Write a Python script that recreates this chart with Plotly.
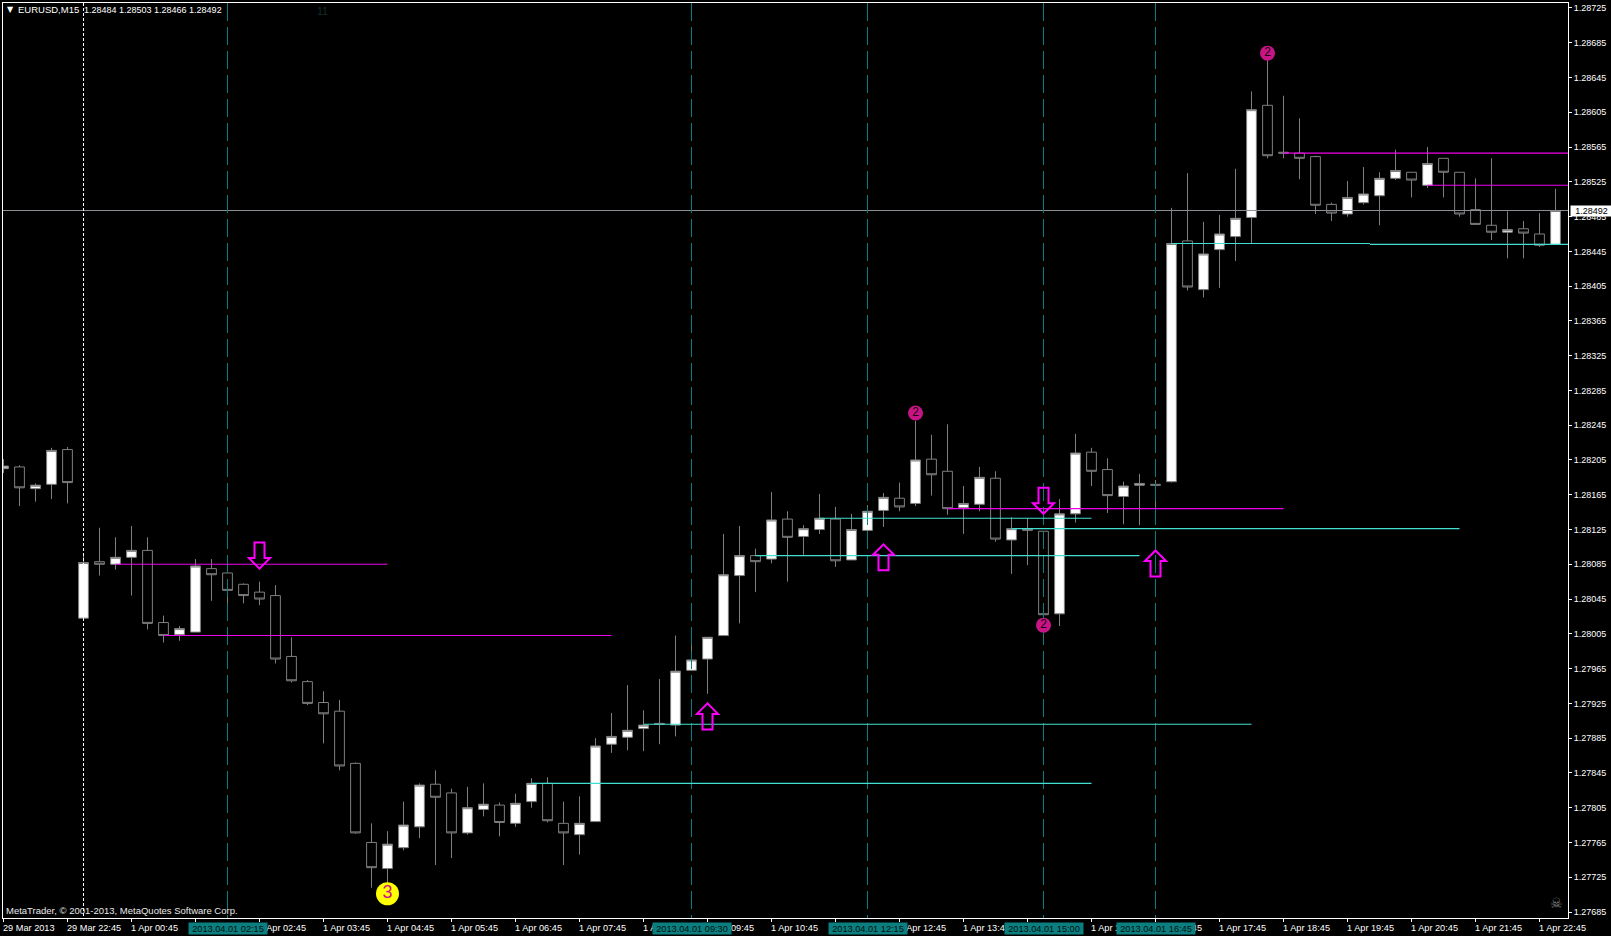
# EURUSD M15 chart in the MetaTrader style, candles by bar number
import plotly.graph_objects as go

opens = [1.28195, 1.28197, 1.28172, 1.28177, 1.28217, 1.28023, 1.28088, 1.28085, 1.28093, 1.28101,
         1.28018, 1.28004, 1.28007, 1.28080, 1.28075, 1.28062, 1.28053, 1.28049, 1.27979, 1.27950,
         1.27926, 1.27916, 1.27856, 1.27765, 1.27735, 1.27759, 1.27783, 1.27832, 1.27822, 1.27776,
         1.27803, 1.27808, 1.27787, 1.27812, 1.27833, 1.27787, 1.27774, 1.27789, 1.27878, 1.27886,
         1.27896, 1.27902, 1.27900, 1.27963, 1.27976, 1.28003, 1.28072, 1.28095, 1.28091, 1.28137,
         1.28117, 1.28125, 1.28137, 1.28090, 1.28124, 1.28147, 1.28161, 1.28155, 1.28206, 1.28192,
         1.28150, 1.28154, 1.28184, 1.28113, 1.28126, 1.28123, 1.28028, 1.28143, 1.28214, 1.28194,
         1.28163, 1.28176, 1.28177, 1.28180, 1.28457, 1.28401, 1.28447, 1.28462, 1.28484, 1.28613,
         1.28559, 1.28558, 1.28554, 1.28499, 1.28488, 1.28501, 1.28509, 1.28529, 1.28536, 1.28521,
         1.28552, 1.28536, 1.28493, 1.28475, 1.28467, 1.28471, 1.28465, 1.28453]
highs = [1.28206, 1.28199, 1.28178, 1.28219, 1.28220, 1.28096, 1.28127, 1.28116, 1.28129, 1.28116,
         1.28026, 1.28014, 1.28091, 1.28091, 1.28076, 1.28063, 1.28065, 1.28061, 1.28001, 1.27952,
         1.27939, 1.27929, 1.27857, 1.27787, 1.27778, 1.27812, 1.27833, 1.27848, 1.27827, 1.27829,
         1.27833, 1.27811, 1.27821, 1.27839, 1.27840, 1.27812, 1.27818, 1.27885, 1.27914, 1.27946,
         1.27917, 1.27953, 1.28003, 1.27992, 1.28001, 1.28120, 1.28129, 1.28103, 1.28168, 1.28146,
         1.28130, 1.28166, 1.28151, 1.28143, 1.28153, 1.28167, 1.28179, 1.28250, 1.28234, 1.28246,
         1.28175, 1.28197, 1.28192, 1.28139, 1.28138, 1.28123, 1.28160, 1.28235, 1.28219, 1.28207,
         1.28180, 1.28189, 1.28182, 1.28495, 1.28535, 1.28479, 1.28487, 1.28540, 1.28629, 1.28665,
         1.28624, 1.28598, 1.28555, 1.28501, 1.28526, 1.28542, 1.28536, 1.28562, 1.28536, 1.28565,
         1.28552, 1.28536, 1.28529, 1.28552, 1.28491, 1.28480, 1.28489, 1.28517]
lows = [1.28190, 1.28152, 1.28157, 1.28160, 1.28155, 1.28023, 1.28072, 1.28079, 1.28049, 1.28010,
        1.27995, 1.27997, 1.28007, 1.28043, 1.28020, 1.28040, 1.28038, 1.27971, 1.27949, 1.27923,
        1.27879, 1.27848, 1.27775, 1.27713, 1.27718, 1.27756, 1.27770, 1.27739, 1.27747, 1.27774,
        1.27795, 1.27772, 1.27783, 1.27805, 1.27788, 1.27739, 1.27751, 1.27789, 1.27868, 1.27871,
        1.27870, 1.27878, 1.27887, 1.27963, 1.27936, 1.28003, 1.28017, 1.28053, 1.28086, 1.28065,
        1.28096, 1.28120, 1.28082, 1.28090, 1.28124, 1.28128, 1.28146, 1.28152, 1.28164, 1.28142,
        1.28120, 1.28146, 1.28111, 1.28074, 1.28084, 1.28027, 1.28014, 1.28133, 1.28175, 1.28144,
        1.28131, 1.28130, 1.28133, 1.28179, 1.28400, 1.28392, 1.28403, 1.28434, 1.28454, 1.28552,
        1.28552, 1.28528, 1.28488, 1.28480, 1.28485, 1.28499, 1.28475, 1.28527, 1.28507, 1.28518,
        1.28507, 1.28485, 1.28476, 1.28458, 1.28437, 1.28437, 1.28450, 1.28453]
closes = [1.28198, 1.28173, 1.28176, 1.28216, 1.28179, 1.28087, 1.28085, 1.28093, 1.28101, 1.28017,
          1.28003, 1.28011, 1.28083, 1.28073, 1.28055, 1.28049, 1.28045, 1.27976, 1.27951, 1.27925,
          1.27913, 1.27853, 1.27776, 1.27736, 1.27763, 1.27785, 1.27831, 1.27817, 1.27776, 1.27805,
          1.27809, 1.27788, 1.27810, 1.27833, 1.27790, 1.27776, 1.27787, 1.27876, 1.27887, 1.27894,
          1.27900, 1.27901, 1.27962, 1.27975, 1.28001, 1.28073, 1.28095, 1.28088, 1.28136, 1.28116,
          1.28126, 1.28138, 1.28089, 1.28125, 1.28146, 1.28162, 1.28151, 1.28205, 1.28188, 1.28149,
          1.28155, 1.28185, 1.28114, 1.28126, 1.28124, 1.28027, 1.28143, 1.28213, 1.28192, 1.28164,
          1.28175, 1.28178, 1.28176, 1.28454, 1.28404, 1.28442, 1.28465, 1.28483, 1.28608, 1.28555,
          1.28558, 1.28552, 1.28498, 1.28489, 1.28507, 1.28511, 1.28529, 1.28538, 1.28527, 1.28546,
          1.28536, 1.28488, 1.28476, 1.28467, 1.28470, 1.28466, 1.28452, 1.28492]

# price scale labels
price_ticks = [1.28725, 1.28685, 1.28645, 1.28605, 1.28565, 1.28525, 1.28485, 1.28445, 1.28405,
               1.28365, 1.28325, 1.28285, 1.28245, 1.28205, 1.28165, 1.28125, 1.28085, 1.28045,
               1.28005, 1.27965, 1.27925, 1.27885, 1.27845, 1.27805, 1.27765, 1.27725, 1.27685]
last_price = 1.28492

# time scale labels, one every 4 bars
time_ticks = [0, 4, 8, 12, 16, 20, 24, 28, 32, 36, 40, 44, 48, 52, 56, 60, 64, 68, 72, 76, 80, 84, 88, 92, 96]
time_labels = ["29 Mar 2013", "29 Mar 22:45", "1 Apr 00:45", "1 Apr 01:45", "1 Apr 02:45",
               "1 Apr 03:45", "1 Apr 04:45", "1 Apr 05:45", "1 Apr 06:45", "1 Apr 07:45",
               "1 Apr 08:45", "1 Apr 09:45", "1 Apr 10:45", "1 Apr 11:45", "1 Apr 12:45",
               "1 Apr 13:45", "1 Apr 14:45", "1 Apr 15:45", "1 Apr 16:45", "1 Apr 17:45",
               "1 Apr 18:45", "1 Apr 19:45", "1 Apr 20:45", "1 Apr 21:45", "1 Apr 22:45"]

# vertical markers
period_sep_bar = 5
event_bars = [14, 43, 54, 65, 72]
event_labels = ["2013.04.01 02:15", "2013.04.01 09:30", "2013.04.01 12:15",
                "2013.04.01 15:00", "2013.04.01 16:45"]

# horizontal levels: first bar, last bar, price
magenta_starts = [7, 10, 59, 80, 89]
magenta_ends = [24, 38, 80, 97.8, 97.8]
magenta_prices = [1.28085, 1.28003, 1.28149, 1.28558, 1.28521]
cyan_starts = [33, 40, 47, 51, 63, 73, 85.4]
cyan_ends = [68, 78, 71, 68, 91, 85.4, 97.8]
cyan_prices = [1.27833, 1.27901, 1.28095, 1.28138, 1.28126, 1.28454, 1.28453]

# arrows and numbered swing points
up_arrow_bars = [44, 55, 72]
up_arrow_prices = [1.27910, 1.28093, 1.28086]
down_arrow_bars = [16, 65]
down_arrow_prices = [1.28095, 1.28158]
swing2_bars = [57, 65, 79]
swing2_prices = [1.28259, 1.28015, 1.28673]
swing3_bars = [24]
swing3_prices = [1.27706]

FONT = "Liberation Sans, sans-serif"
TEAL = "#0b7f7f"
MAGENTA = "#ee00ee"
CYAN = "#40e0d0"
GRAY = "#7f7f7f"
# arrow outlines in pixels around their anchor point
UP_ARROW = "M0,13 L10.5,2.5 L5,2.5 L5,-13 L-5,-13 L-5,2.5 L-10.5,2.5 Z"
DOWN_ARROW = "M0,-13 L10.5,-2.5 L5,-2.5 L5,13 L-5,13 L-5,-2.5 L-10.5,-2.5 Z"
y_range = [1.276781, 1.287307]
bars = list(range(len(opens)))

fig = go.Figure()

fig.add_trace(go.Candlestick(
    x=bars, open=opens, high=highs, low=lows, close=closes,
    increasing=dict(fillcolor="white", line=dict(color=GRAY, width=1)),
    decreasing=dict(fillcolor="black", line=dict(color=GRAY, width=1)),
    whiskerwidth=0, hoverinfo="skip", showlegend=False,
))

# bid line
fig.add_trace(go.Scatter(x=[-1, 99], y=[last_price, last_price], mode="lines",
                         line=dict(color="#8a8f95", width=1), hoverinfo="skip", showlegend=False))

# vertical lines are drawn from the top down so the dashes start at the frame
fig.add_trace(go.Scatter(x=[period_sep_bar, period_sep_bar], y=[y_range[1], y_range[0]], mode="lines",
                         line=dict(color="white", width=1, dash="3px,2px"),
                         hoverinfo="skip", showlegend=False))
for bar in event_bars:
    fig.add_trace(go.Scatter(x=[bar, bar], y=[y_range[1], y_range[0]], mode="lines",
                             line=dict(color=TEAL, width=1, dash="18px,6px"),
                             hoverinfo="skip", showlegend=False))

for start, end, price in zip(magenta_starts, magenta_ends, magenta_prices):
    fig.add_trace(go.Scatter(x=[start, end], y=[price, price], mode="lines",
                             line=dict(color=MAGENTA, width=1.1), hoverinfo="skip", showlegend=False))
for start, end, price in zip(cyan_starts, cyan_ends, cyan_prices):
    fig.add_trace(go.Scatter(x=[start, end], y=[price, price], mode="lines",
                             line=dict(color=CYAN, width=1.1), hoverinfo="skip", showlegend=False))

# numbered swing points
fig.add_trace(go.Scatter(x=swing2_bars, y=swing2_prices, mode="markers+text", text=["2"] * len(swing2_bars),
                         textposition="middle center",
                         marker=dict(size=15, color="#c71585"),
                         textfont=dict(family="Liberation Sans", size=12, color="#140010"),
                         hoverinfo="skip", showlegend=False))
fig.add_trace(go.Scatter(x=swing3_bars, y=swing3_prices, mode="markers+text", text=["3"] * len(swing3_bars),
                         textposition="middle center",
                         marker=dict(size=23, color="#ffff00"),
                         textfont=dict(family="Liberation Sans", size=18, color="#d0108a"),
                         hoverinfo="skip", showlegend=False))

# hollow signal arrows, pinned to bar and price, sized in pixels
shapes = []
for bar, price in zip(up_arrow_bars, up_arrow_prices):
    shapes.append(dict(type="path", path=UP_ARROW, xsizemode="pixel", ysizemode="pixel", xref="x", yref="y",
                       xanchor=bar, yanchor=price, line=dict(color="#ff00ff", width=2)))
for bar, price in zip(down_arrow_bars, down_arrow_prices):
    shapes.append(dict(type="path", path=DOWN_ARROW, xsizemode="pixel", ysizemode="pixel", xref="x", yref="y",
                       xanchor=bar, yanchor=price, line=dict(color="#ff00ff", width=2)))

annotations = []


def corner_text(text, dx, dy, color="white", size=9, family=FONT):
    # text placed in pixels from the top left of the plot
    annotations.append(dict(text=text, xref="paper", yref="paper", x=0, y=1, xanchor="left", yanchor="middle",
                            xshift=dx, yshift=-dy, showarrow=False, font=dict(family=family, size=size, color=color)))


corner_text("▼", 2, 6.5, size=8, family="DejaVu Sans")
corner_text("EURUSD,M15", 12.5, 6.5, size=9.5)
corner_text("1.28484 1.28503 1.28466 1.28492", 79, 6.5)
corner_text("11", 312, 8, color="#12302a", size=10.5)
corner_text("MetaTrader, © 2001-2013, MetaQuotes Software Corp.", 1, 907, color="#e8e8e8", size=9.5)
corner_text("☠", 1545, 900, color="#808080", size=14, family="DejaVu Sans")

for bar, label in zip(time_ticks, time_labels):
    annotations.append(dict(text=label, xref="x", yref="paper", x=bar, y=0, xanchor="left", yanchor="top",
                            xshift=-3, yshift=-3, showarrow=False, font=dict(family=FONT, size=9.2, color="white")))

for bar, label in zip(event_bars, event_labels):
    annotations.append(dict(text=label, xref="x", yref="paper", x=bar, y=0, xanchor="center", yanchor="top",
                            yshift=-4, width=78, height=11, borderpad=0, bgcolor=TEAL, showarrow=False,
                            font=dict(family=FONT, size=9.2, color="#001010")))

annotations.append(dict(text=f"{last_price:.5f}", xref="paper", yref="y", x=1, y=last_price, xanchor="left",
                        yanchor="middle", xshift=2, width=41, height=10, borderpad=0, bgcolor="white",
                        showarrow=False, font=dict(family=FONT, size=9, color="black")))

fig.update_layout(
    width=1611, height=936,
    margin=dict(l=3, r=43, t=3, b=18),
    paper_bgcolor="black", plot_bgcolor="black",
    showlegend=False, boxgap=0.39, boxgroupgap=0, annotations=annotations, shapes=shapes,
    font=dict(family=FONT, size=9, color="white"),
)
fig.update_xaxes(
    range=[-0.03125, 97.78125], rangeslider_visible=False, showgrid=False, zeroline=False, automargin=False,
    showline=True, linecolor="white", linewidth=1, mirror=True,
    tickvals=time_ticks, ticks="outside", ticklen=3, tickcolor="white", tickwidth=1, showticklabels=False,
)
fig.update_yaxes(
    range=y_range, side="right", showgrid=False, zeroline=False, automargin=False,
    showline=True, linecolor="white", linewidth=1, mirror=True,
    tickvals=price_ticks, ticktext=[f"{p:.5f}" for p in price_ticks],
    ticks="outside", ticklen=3, tickcolor="white", tickwidth=1,
    tickfont=dict(family=FONT, size=9, color="white"),
)

fig.write_html("out.html", config=dict(displayModeBar=False),
               post_script="document.body.style.margin='0';document.body.style.overflow='hidden';")
